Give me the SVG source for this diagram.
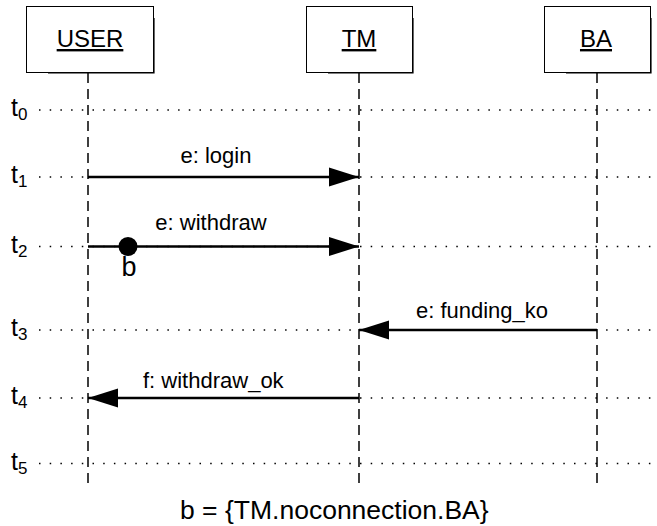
<svg xmlns="http://www.w3.org/2000/svg" width="657" height="526" viewBox="0 0 657 526">
<defs>
<marker id="ah" markerWidth="30" markerHeight="20" refX="30" refY="10" orient="auto" markerUnits="userSpaceOnUse">
<path d="M0,0.5 L30,10 L0,19.5 Z" fill="#000"/>
</marker>
<style>
text{font-family:"Liberation Sans",Arial,sans-serif;fill:#000}
.box{fill:#fff;stroke:#000;stroke-width:1}
.shadow{fill:none;stroke:#000;stroke-width:1.2}
.name{font-size:24px;text-anchor:middle;text-decoration:underline}
.life{stroke:#000;stroke-width:1.5;stroke-dasharray:10 6;fill:none}
.dot{stroke:#000;stroke-width:1.5;stroke-dasharray:1.5 9.2;fill:none}
.msg{stroke:#000;stroke-width:2.6;fill:none;marker-end:url(#ah)}
.lbl{font-size:22px}
.t{font-size:25px}
.sub{font-size:17px}
</style>
</defs>
<rect width="657" height="526" fill="#fff"/>
<g id="timelines">
<text class="t" x="11" y="116">t<tspan class="sub" dy="4">0</tspan></text>
<line class="dot" x1="39" y1="110" x2="656" y2="110"/>
<text class="t" x="11" y="183">t<tspan class="sub" dy="4">1</tspan></text>
<line class="dot" x1="39" y1="177" x2="656" y2="177"/>
<text class="t" x="11" y="252.5">t<tspan class="sub" dy="4">2</tspan></text>
<line class="dot" x1="39" y1="246.5" x2="656" y2="246.5"/>
<text class="t" x="11" y="336">t<tspan class="sub" dy="4">3</tspan></text>
<line class="dot" x1="39" y1="330" x2="656" y2="330"/>
<text class="t" x="11" y="404">t<tspan class="sub" dy="4">4</tspan></text>
<line class="dot" x1="39" y1="398" x2="656" y2="398"/>
<text class="t" x="11" y="469.5">t<tspan class="sub" dy="4">5</tspan></text>
<line class="dot" x1="39" y1="463.5" x2="656" y2="463.5"/>
</g>
<g id="USER">
<rect class="box" x="26.5" y="6.5" width="127" height="66"/>
<path class="shadow" d="M154,18 V73 H48"/>
<text class="name" x="90" y="47">USER</text>
<line class="life" x1="88" y1="73" x2="88" y2="484"/>
</g>
<g id="TM">
<rect class="box" x="306.5" y="6.5" width="106" height="66"/>
<path class="shadow" d="M413,18 V73 H328"/>
<text class="name" x="359" y="47">TM</text>
<line class="life" x1="359" y1="73" x2="359" y2="484"/>
</g>
<g id="BA">
<rect class="box" x="544.5" y="6.5" width="106" height="66"/>
<path class="shadow" d="M651,18 V73 H566"/>
<text class="name" x="596" y="47">BA</text>
<line class="life" x1="597" y1="73" x2="597" y2="484"/>
</g>
<g id="connectors">
<line class="msg" x1="88" y1="177" x2="359" y2="177"/>
<text class="lbl" x="216" y="163" text-anchor="middle">e: login</text>
<line class="msg" x1="88" y1="246.5" x2="359" y2="246.5"/>
<text class="lbl" x="211" y="230" text-anchor="middle">e: withdraw</text>
<line class="msg" x1="597" y1="330" x2="359" y2="330"/>
<text class="lbl" x="482" y="318" text-anchor="middle">e: funding_ko</text>
<line class="msg" x1="359" y1="398" x2="88" y2="398"/>
<text class="lbl" x="143" y="388">f: withdraw_ok</text>
</g>
<g id="b">
<circle cx="128" cy="246.5" r="9.5" fill="#000"/>
<text x="129" y="276" font-size="27" text-anchor="middle">b</text>
</g>
<text x="180" y="519" font-size="26.5">b = {TM.noconnection.BA}</text>
</svg>
